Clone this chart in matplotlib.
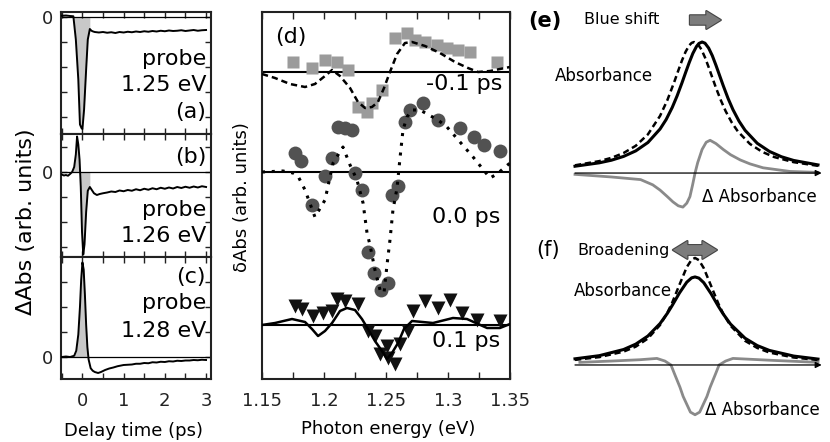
import matplotlib

matplotlib.use("Agg")
import matplotlib.pyplot as plt
import numpy as np

W, H = 830, 442
plt.rcParams["font.family"] = ["DejaVu Sans"]

# ---------------- (a)-(c): transient absorption vs delay time ----------------
t_a = [-0.5, -0.4, -0.3, -0.22, -0.16, -0.1, -0.06, -0.02, 0.0, 0.04, 0.09, 0.13, 0.18, 0.22, 0.26,
       0.3, 0.4, 0.5, 0.6, 0.7, 0.8, 0.9, 1.0, 1.1, 1.2, 1.3, 1.4, 1.5, 1.6, 1.7, 1.8, 1.9, 2.0,
       2.1, 2.2, 2.3, 2.4, 2.5, 2.6, 2.7, 2.8, 2.9, 3.0]
v_a = [0.05, 0.06, 0.04, 0.03, -0.9, -2.5, -4.3, -4.45, -4.48, -3.7, -2.1, -0.9, -0.48, -0.55, -0.58,
       -0.6, -0.62, -0.6, -0.63, -0.61, -0.64, -0.6, -0.62, -0.59, -0.61, -0.58, -0.6, -0.57, -0.59,
       -0.56, -0.58, -0.55, -0.57, -0.54, -0.56, -0.55, -0.53, -0.56, -0.54, -0.52, -0.55, -0.53, -0.52]

t_b = [-0.5, -0.45, -0.4, -0.35, -0.3, -0.25, -0.2, -0.16, -0.13, -0.1, -0.07, -0.04, -0.01, 0.02,
       0.05, 0.09, 0.13, 0.18, 0.22, 0.28, 0.35, 0.42, 0.5,
       0.6, 0.7, 0.8, 0.9, 1.0, 1.1, 1.2, 1.3, 1.4, 1.5, 1.6, 1.7, 1.8, 1.9, 2.0, 2.1, 2.2, 2.3,
       2.4, 2.5, 2.6, 2.7, 2.8, 2.9, 3.0]
v_b = [-0.1, -0.14, -0.12, -0.15, -0.08, 0.0, 0.2, 0.7, 1.42, 1.1, 0.5, -0.6, -2.4, -3.3,
       -2.9, -1.6, -0.75, -0.6, -0.7, -0.85, -0.92, -0.88, -0.85,
       -0.82, -0.78, -0.8, -0.74, -0.77, -0.72, -0.75, -0.69, -0.73, -0.67, -0.71, -0.65, -0.69,
       -0.63, -0.67, -0.62, -0.66, -0.6, -0.64, -0.59, -0.63, -0.58, -0.62, -0.57, -0.6]

t_c = [-0.5, -0.4, -0.3, -0.2, -0.15, -0.1, -0.06, -0.03, 0.0, 0.03, 0.06, 0.09, 0.12, 0.15, 0.2,
       0.25, 0.3, 0.38, 0.45, 0.55, 0.65, 0.75, 0.85, 1.0,
       1.1, 1.2, 1.3, 1.4, 1.5, 1.6, 1.7, 1.8, 1.9, 2.0, 2.1, 2.2, 2.3, 2.4, 2.5, 2.6, 2.7, 2.8,
       2.9, 3.0]
v_c = [0.0, 0.02, 0.0, 0.05, 0.25, 0.9, 2.0, 3.1, 3.78, 3.5, 2.5, 1.3, 0.4, -0.1, -0.45,
       -0.55, -0.6, -0.64, -0.6, -0.52, -0.46, -0.42, -0.37, -0.32,
       -0.31, -0.3, -0.27, -0.27, -0.24, -0.25, -0.21, -0.22, -0.19, -0.2, -0.17, -0.18, -0.15,
       -0.16, -0.14, -0.14, -0.12, -0.13, -0.11, -0.12]

delay_ticks = [-0.5, 0.0, 0.5, 1.0, 1.5, 2.0, 2.5, 3.0]
delay_labels = ["", "0", "", "1", "", "2", "", "3"]

# ---------------- (d): delta-Abs spectra ----------------
sq_e = [1.1750, 1.1903, 1.2008, 1.2105, 1.2194, 1.2274, 1.2347, 1.2387, 1.2468, 1.2573, 1.2669,
        1.2734, 1.2815, 1.2911, 1.2992, 1.3081, 1.3177, 1.3395]
sq_v = [1.0, 0.4, 1.2, 1.0, 0.2, -3.5, -4.0, -3.1, -1.8, 3.4, 3.9, 3.2, 3.0, 2.7, 2.4, 2.2, 2.0, 1.0]
fit_m_e = [1.1500, 1.1605, 1.1726, 1.1847, 1.1927, 1.2008, 1.2065, 1.2129, 1.2210, 1.2274, 1.2331,
           1.2387, 1.2435, 1.2484, 1.2532, 1.2589, 1.2653, 1.2710, 1.2815, 1.2935, 1.3056, 1.3161,
           1.3242, 1.3339, 1.3419, 1.3500]
fit_m_v = [-0.2, -0.6, -1.2, -1.5, -1.2, -0.4, 0.2, -0.4, -1.6, -3.0, -3.6, -3.5, -3.0, -1.6, 0.0,
           1.8, 2.9, 3.0, 2.6, 1.9, 1.0, 0.4, 0.0, 0.1, 0.3, 0.5]

ci_e = [1.1766, 1.1815, 1.1903, 1.2008, 1.2065, 1.2113, 1.2169, 1.2226, 1.2250, 1.2306, 1.2355,
        1.2403, 1.2460, 1.2516, 1.2548, 1.2597, 1.2653, 1.2694, 1.2798, 1.2919, 1.3097, 1.3210,
        1.3290, 1.3419]
ci_v = [1.9, 1.1, -3.3, -0.4, 1.4, 4.5, 4.4, 4.2, -0.1, -1.8, -8.0, -10.1, -11.8, -11.1, -2.3,
        -1.4, 5.0, 6.2, 6.9, 5.2, 4.4, 3.5, 2.7, 2.1]
fit_0_e = [1.1500, 1.1669, 1.1750, 1.1790, 1.1847, 1.1927, 1.2008, 1.2073, 1.2153, 1.2210, 1.2266,
           1.2315, 1.2347, 1.2371, 1.2411, 1.2452, 1.2484, 1.2508, 1.2532, 1.2556, 1.2589, 1.2613,
           1.2637, 1.2669, 1.2710, 1.2774, 1.2919, 1.2992, 1.3202, 1.3339, 1.3395, 1.3500]
fit_0_v = [0.0, 0.1, -0.1, -0.4, -1.8, -4.5, -2.8, 0.9, 2.5, 0.7, -0.8, -3.1, -6.1, -7.3, -9.8,
           -11.8, -12.1, -9.3, -6.8, -3.8, -1.6, 1.4, 4.2, 5.5, 6.2, 6.2, 5.2, 4.5, 1.5, -0.6, -0.2, 0.9]

tr_e = [1.1766, 1.1823, 1.1911, 1.1992, 1.2065, 1.2105, 1.2169, 1.2274, 1.2355, 1.2411, 1.2452,
        1.2508, 1.2516, 1.2573, 1.2613, 1.2677, 1.2718, 1.2815, 1.2919, 1.3016, 1.3113, 1.3234, 1.3419]
tr_v = [1.9, 1.6, 0.9, 1.2, 1.4, 2.6, 2.4, 2.1, -0.6, -1.1, -2.9, -2.1, -3.3, -3.9, -1.9, -0.6,
        1.4, 2.4, 1.7, 2.5, 1.2, 0.5, 0.4]
fit_p_e = [1.1500, 1.1605, 1.1742, 1.1847, 1.1903, 1.1952, 1.2008, 1.2065, 1.2129, 1.2185, 1.2250,
           1.2306, 1.2355, 1.2411, 1.2468, 1.2508, 1.2548, 1.2597, 1.2645, 1.2710, 1.2879, 1.3040,
           1.3153, 1.3315, 1.3419, 1.3500]
fit_p_v = [0.0, 0.2, 0.6, 0.3, -0.4, -1.1, -0.6, 0.2, 1.4, 1.7, 1.5, 0.6, -0.4, -1.6, -2.6, -3.4,
           -2.8, -1.8, -0.4, 0.4, 0.2, 0.7, 0.6, -0.3, -0.3, 0.1]

offsets = {"-0.1": 30.7, "0.0": 20.7, "0.1": 5.4}
energy_ticks = [1.15, 1.175, 1.2, 1.225, 1.25, 1.275, 1.3, 1.325, 1.35]
energy_labels = ["1.15", "", "1.2", "", "1.25", "", "1.3", "", "1.35"]

# ---------------- (e), (f): schematic line shapes ----------------
e_sol_x = [0, 1, 1.5, 2, 2.5, 3, 3.5, 3.75, 4, 4.2, 4.4, 4.55, 4.7, 4.85, 5.0, 5.1, 5.23, 5.35, 5.5,
           5.65, 5.8, 5.95, 6.1, 6.3, 6.5, 6.75, 7, 7.5, 8, 8.5, 9, 10]
e_sol_y = [0.052, 0.078, 0.098, 0.127, 0.169, 0.233, 0.336, 0.408, 0.5, 0.588, 0.687, 0.766, 0.843,
           0.913, 0.966, 0.989, 1.0, 0.991, 0.954, 0.896, 0.823, 0.745, 0.667, 0.569, 0.484, 0.396,
           0.326, 0.227, 0.165, 0.124, 0.096, 0.062]
e_das_x = [0, 1, 1.5, 2, 2.5, 3, 3.5, 3.8, 4.1, 4.25, 4.4, 4.55, 4.7, 4.8, 4.9, 5.05, 5.2, 5.35, 5.5,
           5.65, 5.8, 6.0, 6.2, 6.45, 6.7, 7.2, 7.7, 8.2, 9, 10]
e_das_y = [0.059, 0.091, 0.116, 0.153, 0.208, 0.295, 0.436, 0.556, 0.703, 0.782, 0.858, 0.925, 0.974,
           0.993, 1.0, 0.985, 0.944, 0.882, 0.808, 0.729, 0.651, 0.556, 0.472, 0.386, 0.318, 0.222,
           0.162, 0.122, 0.083, 0.055]
e_dif_x = [0, 1.5, 2.7, 3.2, 3.5, 3.8, 4.03, 4.25, 4.44, 4.6, 4.73, 4.84, 4.94, 5.05, 5.23, 5.4,
           5.56, 5.8, 6.1, 6.4, 6.8, 7.2, 7.74, 8.85, 10]
e_dif_y = [-0.01, -0.03, -0.05, -0.09, -0.13, -0.18, -0.22, -0.25, -0.26, -0.23, -0.18, -0.09, 0.0,
           0.08, 0.18, 0.235, 0.25, 0.225, 0.18, 0.14, 0.1, 0.07, 0.04, 0.012, 0.005]

f_x = [0, 1, 2, 2.5, 3, 3.5, 3.8, 4, 4.3, 4.6, 4.8, 4.94, 5.1, 5.3, 5.6, 5.9, 6.1, 6.4, 7, 7.5, 8, 9, 10]
f_sol_y = [0.047, 0.071, 0.118, 0.159, 0.221, 0.316, 0.394, 0.454, 0.550, 0.632, 0.665, 0.672, 0.663,
           0.628, 0.544, 0.448, 0.389, 0.312, 0.204, 0.148, 0.111, 0.068, 0.045]
f_das_y = [0.039, 0.060, 0.102, 0.140, 0.202, 0.305, 0.398, 0.476, 0.613, 0.747, 0.804, 0.817, 0.800,
           0.739, 0.604, 0.468, 0.391, 0.300, 0.184, 0.130, 0.095, 0.057, 0.038]
f_dif_x = [0.2, 1.5, 2.67, 3.37, 3.7, 3.95, 4.1, 4.32, 4.45, 4.6, 4.75, 4.94, 5.13, 5.28, 5.43, 5.56,
           5.78, 5.93, 6.2, 6.5, 8.15, 10]
f_dif_y = [0.02, 0.03, 0.04, 0.05, 0.03, 0.0, -0.07, -0.17, -0.24, -0.3, -0.36, -0.38, -0.36, -0.3,
           -0.24, -0.17, -0.07, 0.0, 0.03, 0.05, 0.035, 0.02]


def box(x0, y0, x1, y1):
    """ピクセル座標の矩形を figure 座標 [left, bottom, width, height] に変換"""
    return [x0 / W, 1 - y1 / H, (x1 - x0) / W, (y1 - y0) / H]


def fp(x, y):
    return x / W, 1 - y / H


fig = plt.figure(figsize=(W / 100, H / 100), dpi=100)
spine_c = "#222222"

left_panels = [
    (t_a, v_a, (12, 134), (-4.68, 0.2), [0, -1, -2, -3, -4], ["0", "", "", "", ""], (-0.25, 0.2),
     [("probe", 65), ("1.25 eV", 91), ("(a)", 118)]),
    (t_b, v_b, (134, 257), (-3.4, 1.52), [1, 0, -1, -2, -3], ["", "0", "", "", ""], (-0.2, 0.18),
     [("(b)", 163), ("probe", 216), ("1.26 eV", 242)]),
    (t_c, v_c, (257, 379), (-0.88, 4.0), [3, 2, 1, 0], ["", "", "", "0"], (-0.22, 0.15),
     [("(c)", 283), ("probe", 309), ("1.28 eV", 337)]),
]
for i, (t, v, (y0, y1), ylim, yt, ytl, win, texts) in enumerate(left_panels):
    ax = fig.add_axes(box(61, y0, 211, y1))
    t = np.asarray(t)
    v = np.asarray(v)
    ax.fill_between(t, v, 0, where=(t >= win[0]) & (t <= win[1]), interpolate=True,
                    color="#c8c8c8", lw=0, zorder=1)
    ax.axhline(0, color="k", lw=0.9, zorder=2)
    ax.plot(t, v, color="k", lw=1.4, zorder=3)
    ax.set_xlim(-0.52, 3.12)
    ax.set_ylim(*ylim)
    ax.set_xticks(delay_ticks)
    ax.set_xticklabels(delay_labels if i == 2 else [""] * len(delay_ticks))
    ax.set_yticks(yt)
    ax.set_yticklabels(ytl)
    ax.tick_params(direction="in", top=True, right=True, length=4, width=1, labelsize=13,
                   colors=spine_c, pad=6)
    ax.tick_params(axis="x", pad=9)
    for s in ax.spines.values():
        s.set_linewidth(1.5)
        s.set_color(spine_c)
    for txt, yb in texts:
        fig.text(*fp(206, yb), txt, ha="right", va="baseline", fontsize=16)

fig.text(*fp(133, 431), "Delay time (ps)", ha="center", va="center", fontsize=13)
fig.text(*fp(26, 222), "ΔAbs (arb. units)", ha="center", va="center", rotation=90, fontsize=16)

# panel (d)
ax_d = fig.add_axes(box(262, 12, 510, 379))
series = [
    ("-0.1", sq_e, sq_v, "s", "#9b9b9b", 9, fit_m_e, fit_m_v, (0, (2.5, 1.6)), 1.8),
    ("0.0", ci_e, ci_v, "o", "#525252", 10, fit_0_e, fit_0_v, (0, (1, 2.2)), 2.2),
    ("0.1", tr_e, tr_v, "v", "#111111", 10.5, fit_p_e, fit_p_v, "-", 1.8),
]
for key, me, mv, mk, mc, ms, fe, fv, ls, lw in series:
    off = offsets[key]
    ax_d.axhline(off, color="k", lw=1.5, zorder=1)
    ax_d.plot(me, np.asarray(mv) + off, mk, color=mc, ms=ms, mec="none", zorder=2)
    ax_d.plot(fe, np.asarray(fv) + off, color="k", lw=lw, ls=ls, zorder=3)
ax_d.set_xlim(1.15, 1.35)
ax_d.set_ylim(0, 36.7)
ax_d.set_xticks(energy_ticks)
ax_d.set_xticklabels(energy_labels)
ax_d.set_yticks([])
ax_d.tick_params(direction="in", top=True, length=5, width=1, labelsize=13, colors=spine_c, pad=9)
for s in ax_d.spines.values():
    s.set_linewidth(1.5)
    s.set_color(spine_c)
fig.text(*fp(275, 43), "(d)", ha="left", va="baseline", fontsize=16)
fig.text(*fp(502, 90), "-0.1 ps", ha="right", va="baseline", fontsize=16)
fig.text(*fp(500, 223), "0.0 ps", ha="right", va="baseline", fontsize=16)
fig.text(*fp(500, 347), "0.1 ps", ha="right", va="baseline", fontsize=16)
fig.text(*fp(388, 429), "Photon energy (eV)", ha="center", va="center", fontsize=13)
fig.text(*fp(242, 197), "δAbs (arb. units)", ha="center", va="center", rotation=90, fontsize=13)

# panels (e), (f)
gray = "#8a8a8a"
ax_e = fig.add_axes(box(555, 0, 830, 221))
ax_e.set_xlim(-0.823, 10.494)
ax_e.set_ylim(-0.366, 1.3206)
ax_f = fig.add_axes(box(555, 221, 830, 442))
ax_f.set_xlim(-0.823, 10.494)
ax_f.set_ylim(-0.588, 1.099)
for ax in (ax_e, ax_f):
    ax.axis("off")
    ax.annotate("", xy=(10.15, 0), xytext=(0, 0),
                arrowprops=dict(arrowstyle="-|>", lw=0.9, color="k", mutation_scale=9,
                                shrinkA=0, shrinkB=0))

ax_e.plot(e_dif_x, e_dif_y, color=gray, lw=2)
ax_e.plot(e_das_x, e_das_y, color="k", lw=1.8, ls=(0, (2.5, 1.5)))
ax_e.plot(e_sol_x, e_sol_y, color="k", lw=2.2)
ax_f.plot(f_dif_x, f_dif_y, color=gray, lw=2)
ax_f.plot(f_x, f_das_y, color="k", lw=1.8, ls=(0, (2.5, 1.5)))
ax_f.plot(f_x, f_sol_y, color="k", lw=2.2)

# block arrows (outline pass then fill pass)
arrow_style = "simple,head_width=0.8,head_length=0.65,tail_width=0.42"
arrows_e = [((4.73, 1.168), (6.0, 1.168))]
arrows_f = [((4.6, 0.878), (5.84, 0.878)), ((5.3, 0.878), (4.03, 0.878))]
for ax, arrs in ((ax_e, arrows_e), (ax_f, arrows_f)):
    for ec, lw in (("#444444", 1.6), ("none", 0)):
        for start, end in arrs:
            ax.annotate("", xy=end, xytext=start,
                        arrowprops=dict(arrowstyle=arrow_style, fc="#7c7c7c", ec=ec, lw=lw,
                                        mutation_scale=16, shrinkA=0, shrinkB=0))

fig.text(*fp(545, 21), "(e)", ha="center", va="center", fontsize=15, fontweight="bold")
fig.text(*fp(622, 19), "Blue shift", ha="center", va="center", fontsize=11.5)
fig.text(*fp(604, 76), "Absorbance", ha="center", va="center", fontsize=12)
fig.text(*fp(759, 197), "Δ Absorbance", ha="center", va="center", fontsize=12)
fig.text(*fp(548, 250), "(f)", ha="center", va="center", fontsize=15)
fig.text(*fp(624, 250), "Broadening", ha="center", va="center", fontsize=11.5)
fig.text(*fp(623, 291), "Absorbance", ha="center", va="center", fontsize=12)
fig.text(*fp(762, 410), "Δ Absorbance", ha="center", va="center", fontsize=12)

fig.savefig("out.png", dpi=100)
